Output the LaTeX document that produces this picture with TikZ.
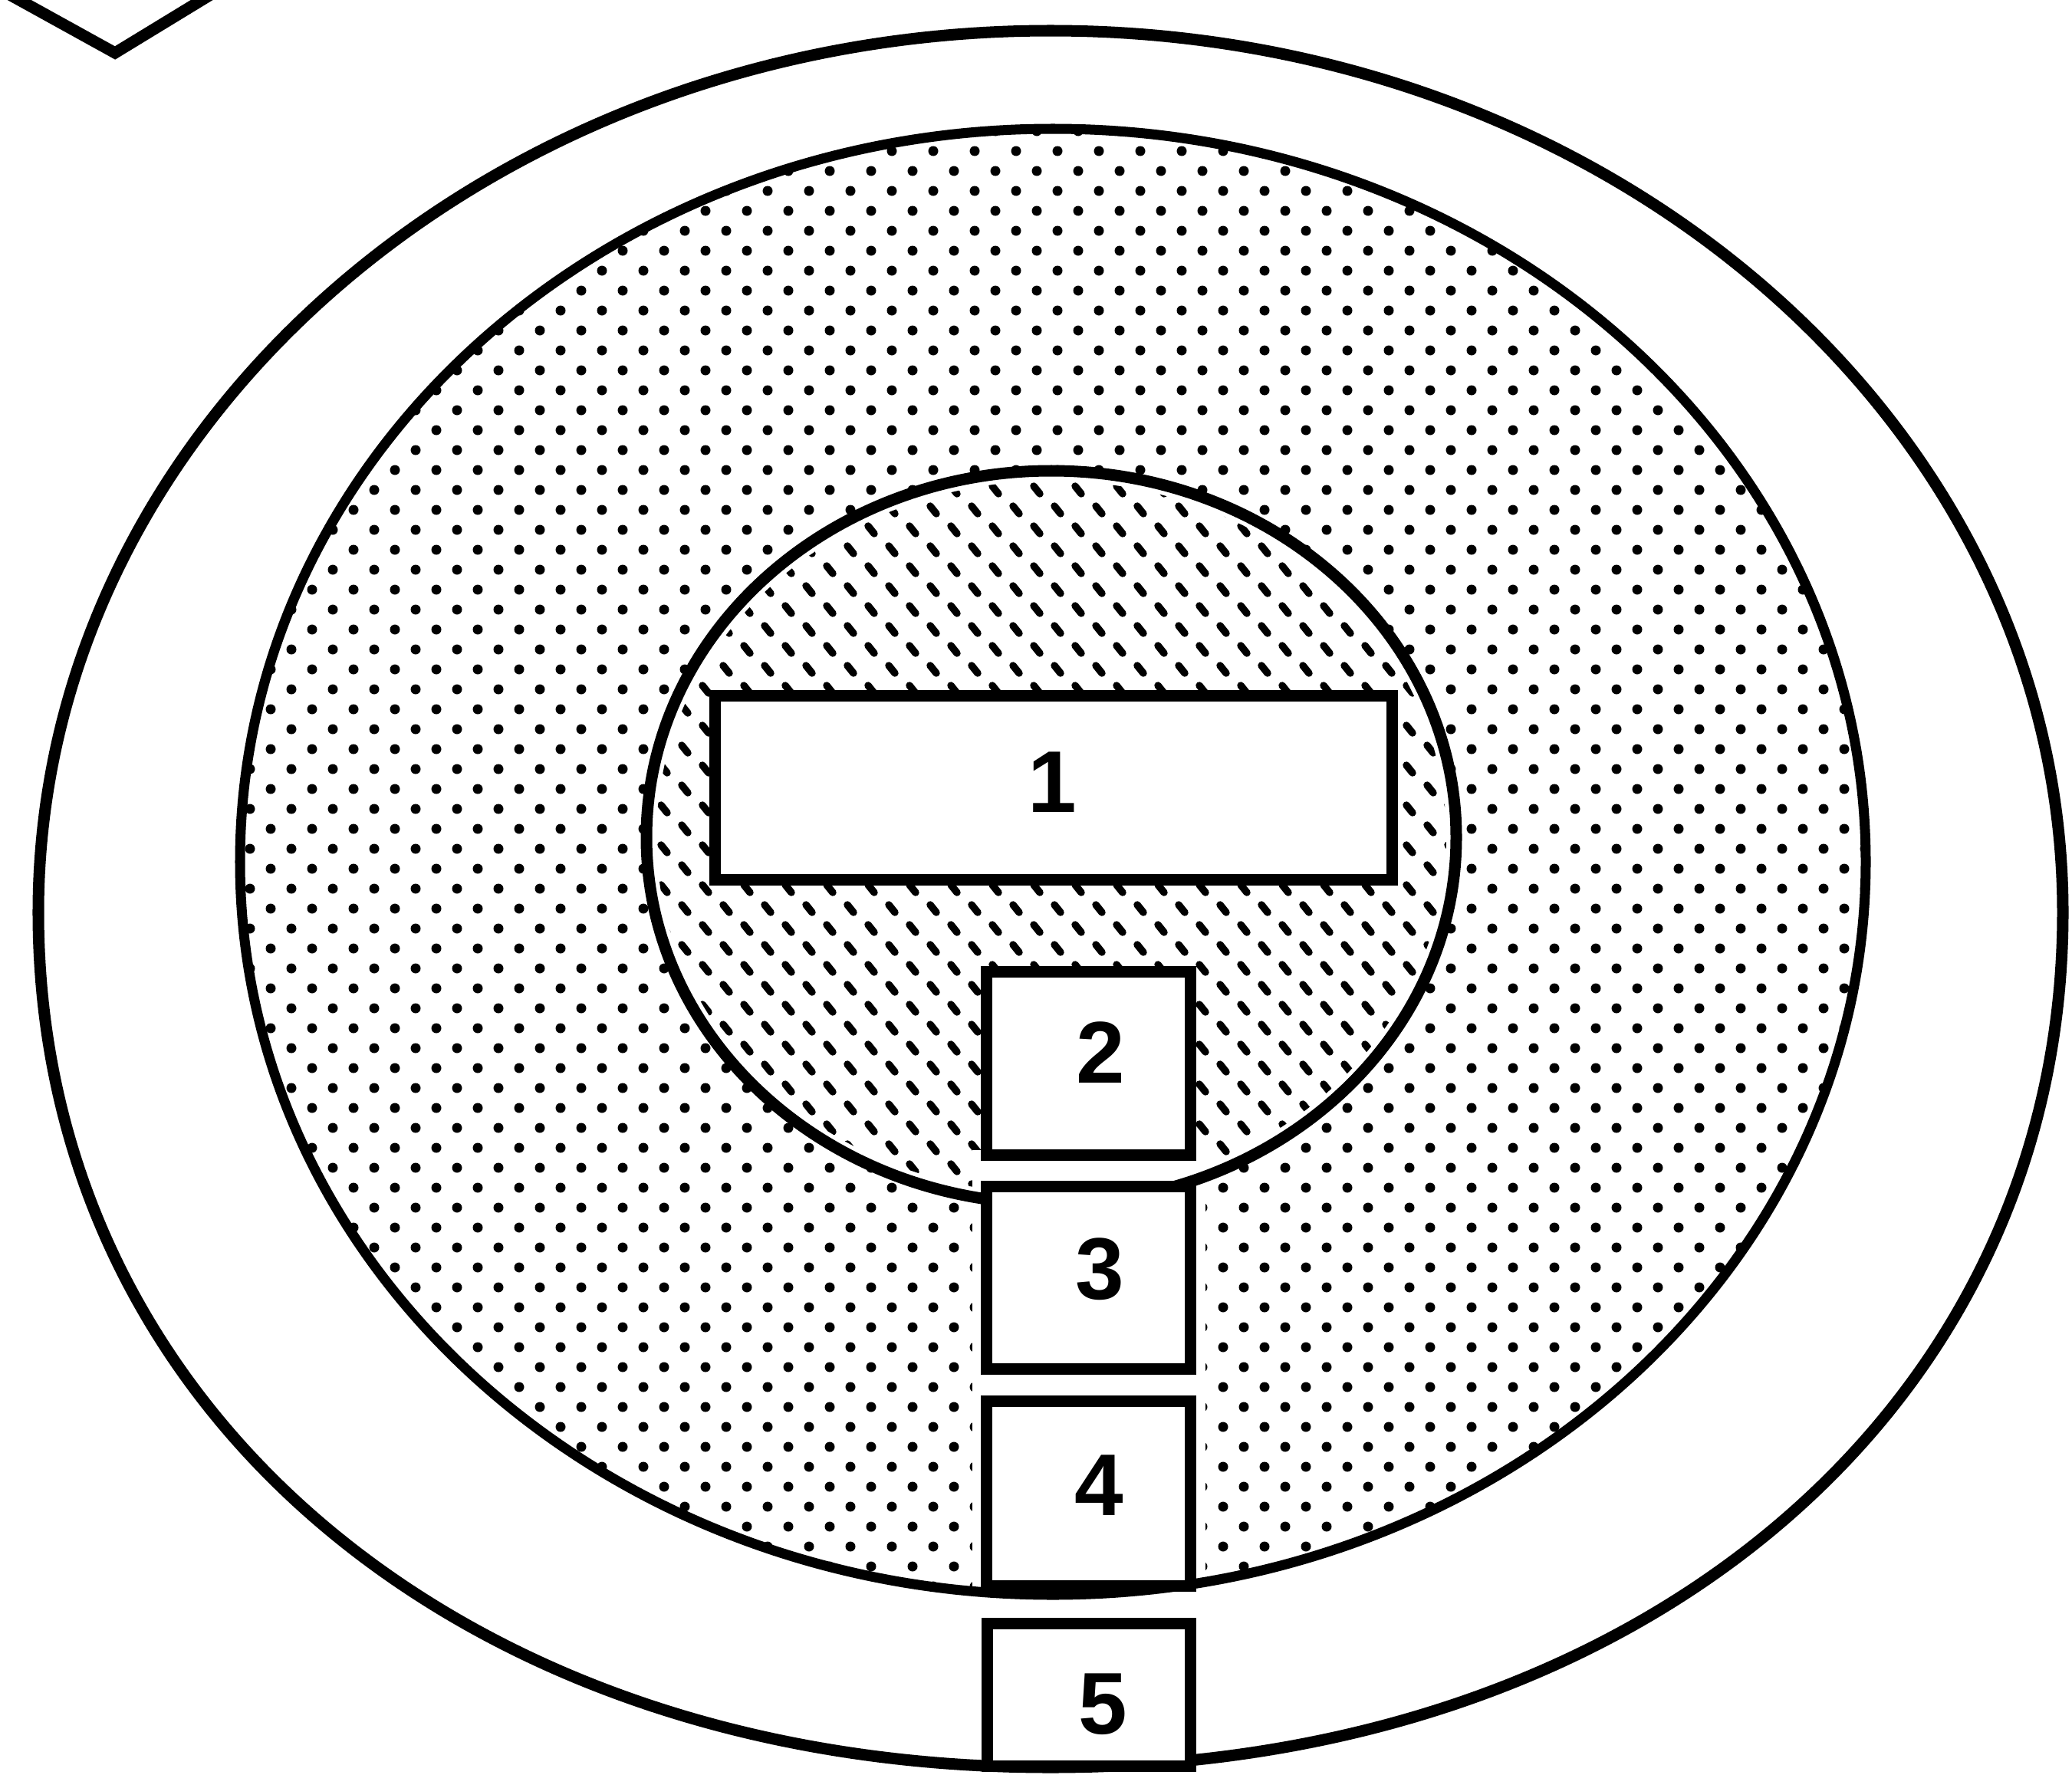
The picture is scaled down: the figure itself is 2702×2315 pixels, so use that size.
\documentclass[tikz,border=0pt]{standalone}
\usepackage{fontspec}
\setmainfont{Liberation Sans}
\begin{document}
\begin{tikzpicture}[x=0.01cm, y=-0.01cm,
  outline/.style={line width=4.27pt},
  midline/.style={line width=3.7pt},
  box/.style={draw, fill=white, line width=4.27pt, inner sep=0pt, outer sep=0pt, minimum width=2.65cm},
  digit/.style={inner sep=0pt, font=\fontsize{32.5}{36}\selectfont\bfseries},
  hatchdash/.style={line width=2.7pt, line cap=round}]
\useasboundingbox (0,0) rectangle (2702,2315);
\begin{scope}
\clip (0,0) rectangle (2702,2315);
% corner of a shape at top left
\coordinate (vl) at (-11,-20);
\coordinate (vb) at (150,69);
\coordinate (vr) at (296,-20);
\draw[outline] (vl) -- (vb) -- (vr);
% outer ring
\draw[outline, fill=white] (2690,1190) .. controls (2690,555) and (2099,40) .. (1370,40)
  .. controls (641,40) and (50,555) .. (50,1190)
  .. controls (50,1837) and (604,2305) .. (1370,2305)
  .. controls (2136,2305) and (2690,1837) .. (2690,1190) -- cycle;
% middle dotted ellipse (pattern)
\begin{scope}
\clip (1373,1124) ellipse [x radius=1060, y radius=956];
\foreach \j in {6,...,79}{
  \pgfmathtruncatemacro\off{mod(\j,2)*27}
  \foreach \i in {5,...,45}{
    \fill (2+\off+54*\i, 15+26*\j) circle [radius=6.5];
  }
}
\end{scope}
% inner hatched ellipse (pattern)
\fill[white] (1371,1092) ellipse [x radius=528, y radius=478];
\begin{scope}
\clip (1371,1092) ellipse [x radius=515, y radius=465];
\foreach \j in {23,...,60}{
  \pgfmathtruncatemacro\off{mod(\j,2)*27}
  \foreach \i in {15,...,36}{
    \draw[hatchdash] (2+\off+54*\i-4, 15+26*\j-5) -- (2+\off+54*\i+4, 15+26*\j+5);
  }
}
\end{scope}
% clear strip behind the column of boxes
\fill[white] (1268,1500) rectangle (1572,2072);
% outlines
\draw[midline] (1373,1124) ellipse [x radius=1060, y radius=956];
\draw[outline] (1371,1092) ellipse [x radius=528, y radius=478];
% boxes
\node[box, minimum width=8.82cm, minimum height=2.39cm] (b1) at (1374,1027.5) {};
\node[box, minimum height=2.38cm] (b2) at (1419.5,1387) {};
\node[box, minimum height=2.37cm] (b3) at (1419.5,1666.5) {};
\node[box, minimum height=2.40cm] (b4) at (1419.5,1948) {};
\node[box, minimum height=1.85cm] (b5) at (1420,2210.5) {};
\end{scope}
% labels
\node[digit] (t1) at (1372,1020) {1};
\node[digit] (t2) at (1435,1373) {2};
\node[digit] (t3) at (1434,1655) {3};
\node[digit] (t4) at (1433,1937) {4};
\node[digit] (t5) at (1438,2223) {5};
\end{tikzpicture}
\end{document}
